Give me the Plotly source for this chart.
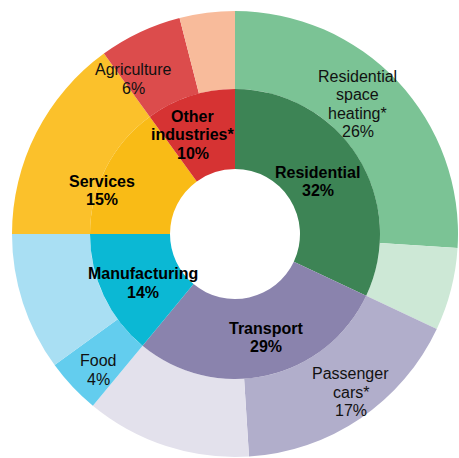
import math
import plotly.graph_objects as go

# Inner ring: sectors
sectors = ["Residential", "Transport", "Manufacturing", "Services", "Other industries*"]
sector_share = [32, 29, 14, 15, 10]
sector_text = ["Residential", "Transport", "Manufacturing", "Services", "Other<br>industries*"]
sector_colors = ["#3d8455", "#8a83ad", "#0bb8d4", "#f9bb16", "#d63333"]

# Outer ring: sub-sectors (empty label = remainder of the sector)
subs = ["Residential space heating*", "", "Passenger cars*", "", "Food", "", "Services", "Agriculture", ""]
sub_share = [26, 6, 17, 12, 4, 10, 15, 6, 4]
sub_text = ["Residential<br>space<br>heating*", "", "Passenger<br>cars*", "", "Food", "", "",
            "Agriculture", ""]
sub_colors = ["#7bc395", "#cde8d6", "#b1aecb", "#e3e1ec", "#63cdee", "#a9dff3",
              "#fbc12b", "#dc4c4c", "#f8bb9b"]

W, H = 459, 458
cx, cy = 235, 234  # centre in pixels from top-left
R_out, R_mid, R_in = 223, 145, 65
FONT = "Liberation Sans, Arial"
LH = 18.5  # line height in px

def dom(r):
    return dict(x=[(cx - r) / W, (cx + r) / W],
                y=[(H - cy - r) / H, (H - cy + r) / H])

fig = go.Figure()
fig.add_trace(go.Pie(
    values=sub_share, labels=[f"s{i}" for i in range(len(subs))],
    textinfo="none", sort=False, direction="clockwise", rotation=0,
    hole=R_mid / R_out, domain=dom(R_out),
    marker=dict(colors=sub_colors, line=dict(width=0)),
    showlegend=False, hoverinfo="skip",
))
fig.add_trace(go.Pie(
    values=sector_share, labels=sectors,
    textinfo="none", sort=False, direction="clockwise", rotation=0,
    hole=R_in / R_mid, domain=dom(R_mid),
    marker=dict(colors=sector_colors, line=dict(width=0)),
    showlegend=False, hoverinfo="skip",
))

def add_labels(shares, texts, radii, bold, nudge):
    total = sum(shares)
    cum = 0
    for v, t, r, dth in zip(shares, texts, radii, nudge):
        mid = (cum + v / 2) / total * 2 * math.pi + math.radians(dth)
        cum += v
        if not t:
            continue
        lines = t.split("<br>") + [f"{v}%"]
        px = cx + r * math.sin(mid)
        py = cy - r * math.cos(mid)
        n = len(lines)
        for i, ln in enumerate(lines):
            ly = py + (i - (n - 1) / 2) * LH
            fig.add_annotation(x=px / W, y=(H - ly) / H, xref="paper", yref="paper",
                               text=f"<b>{ln}</b>" if bold else ln,
                               showarrow=False, xanchor="center", yanchor="middle",
                               font=dict(family=FONT, size=16,
                                         color="#000000" if bold else "#111111"))

add_labels(sector_share, sector_text, [98, 108, 104, 140, 108], True, [0, -4, -3, -9, -5])
add_labels(sub_share, sub_text, [179, 0, 196, 0, 193, 0, 0, 185, 0], False,
           [-3.4, 0, -2, 0, -1.6, 0, 0, -8, 0])

fig.update_layout(
    width=W, height=H, margin=dict(l=0, r=0, t=0, b=0),
    paper_bgcolor="white", plot_bgcolor="white",
)
fig.write_html("out.html", post_script="document.body.style.margin='0';",
               config={"displayModeBar": False})
